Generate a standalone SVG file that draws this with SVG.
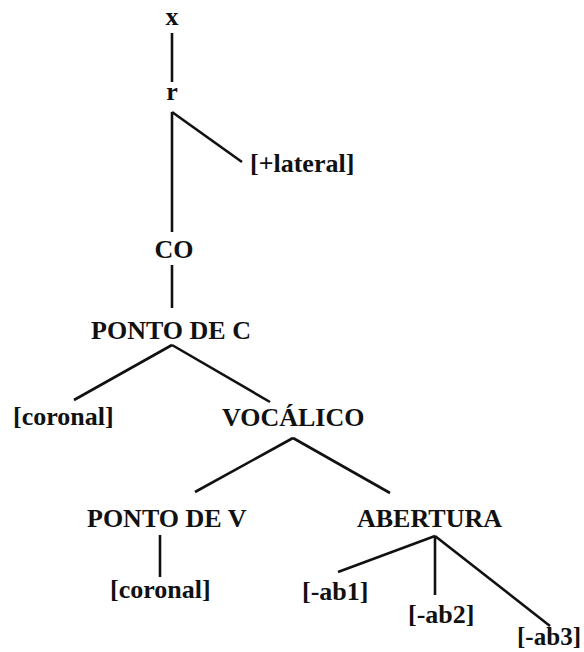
<svg xmlns="http://www.w3.org/2000/svg" width="584" height="652" viewBox="0 0 584 652">
<style>
text{font-family:"Liberation Serif","Times New Roman",serif;font-weight:bold;font-size:26px;fill:#111}
.c line{stroke:#111;stroke-width:2.6;stroke-linecap:butt}
</style>
<rect width="584" height="652" fill="#fff"/>
<g class="c" id="connectors">
<line x1="172" y1="33" x2="172" y2="82"/>
<line x1="172" y1="112" x2="172" y2="232"/>
<line x1="172" y1="112" x2="242" y2="162"/>
<line x1="172" y1="265" x2="172" y2="308"/>
<line x1="172" y1="345" x2="74" y2="400"/>
<line x1="172" y1="345" x2="270" y2="402"/>
<line x1="293" y1="438" x2="195" y2="492"/>
<line x1="293" y1="438" x2="390" y2="493"/>
<line x1="160" y1="535" x2="160" y2="577"/>
<line x1="435" y1="536" x2="338" y2="572"/>
<line x1="435" y1="536" x2="435" y2="595"/>
<line x1="435" y1="536" x2="550" y2="626"/>
</g>
<g id="n-x"><text x="172" y="25" text-anchor="middle">x</text></g>
<g id="n-r"><text x="172" y="100" text-anchor="middle">r</text></g>
<g id="n-lateral"><text x="250" y="172">[+lateral]</text></g>
<g id="n-co"><text x="174" y="258" text-anchor="middle">CO</text></g>
<g id="n-pontoc"><text x="171" y="339" text-anchor="middle">PONTO DE C</text></g>
<g id="n-coronal1"><text x="13" y="425">[coronal]</text></g>
<g id="n-vocalico"><text x="222" y="426">VOCÁLICO</text></g>
<g id="n-pontov"><text x="87" y="527">PONTO DE V</text></g>
<g id="n-abertura"><text x="357" y="527">ABERTURA</text></g>
<g id="n-coronal2"><text x="110" y="598">[coronal]</text></g>
<g id="n-ab1"><text x="302" y="600">[-ab1]</text></g>
<g id="n-ab2"><text x="408" y="623">[-ab2]</text></g>
<g id="n-ab3"><text x="517" y="645" textLength="64" lengthAdjust="spacingAndGlyphs">[-ab3]</text></g>
</svg>
